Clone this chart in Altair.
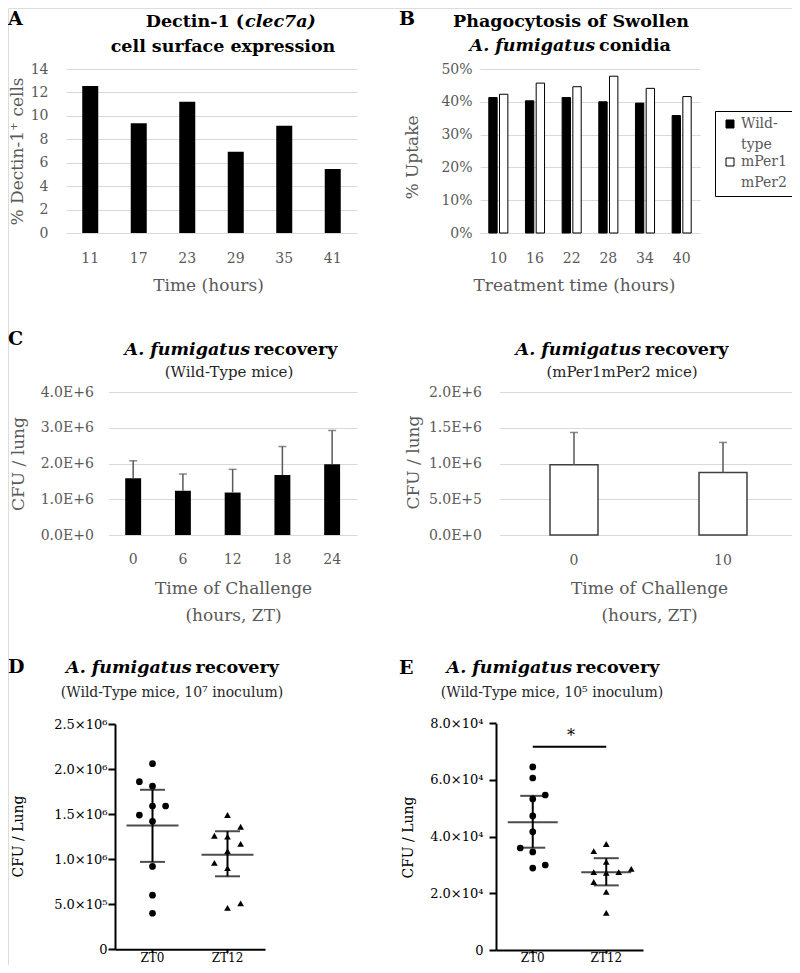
import altair as alt
import pandas as pd

FONT = "DejaVu Serif"
GRAY = "#595959"
GRID = "#d9d9d9"
W, H = 784, 957
TS = 17.5  # panel title size


def P(v):
    return v - 8


# ---------------- data ----------------
a_hours = ["11", "17", "23", "29", "35", "41"]
a_pct = [12.55, 9.36, 11.21, 6.94, 9.16, 5.46]
a_ticks = [0, 2, 4, 6, 8, 10, 12, 14]

b_hours = ["10", "16", "22", "28", "34", "40"]
b_groups = ["Wild-type", "mPer1mPer2"]
b_wt = [0.413, 0.403, 0.413, 0.400, 0.396, 0.358]
b_mper = [0.423, 0.457, 0.446, 0.478, 0.441, 0.416]
b_ticks = [0, 0.1, 0.2, 0.3, 0.4, 0.5]

c1_times = ["0", "6", "12", "18", "24"]
c1_mean = [1.59e6, 1.24e6, 1.19e6, 1.68e6, 1.98e6]
c1_upper = [2.08e6, 1.71e6, 1.84e6, 2.48e6, 2.93e6]
c1_ticks = [0, 1e6, 2e6, 3e6, 4e6]

c2_times = ["0", "10"]
c2_mean = [0.983e6, 0.875e6]
c2_upper = [1.437e6, 1.297e6]
c2_ticks = [0, 5e5, 1e6, 1.5e6, 2e6]

groups_de = ["ZT0", "ZT12"]
lanes = ["-2", "-1", "0", "1", "2"]

d_zt0 = [2.06e6, 1.86e6, 1.81e6, 1.59e6, 1.59e6, 1.49e6, 1.42e6, 0.92e6, 0.60e6, 0.40e6]
d_zt0_lane = ["0", "-1", "0", "0", "1", "-1", "0", "0", "0", "0"]
d_zt12 = [1.49e6, 1.36e6, 1.26e6, 1.25e6, 1.17e6, 1.09e6, 0.96e6, 0.90e6, 0.46e6, 0.51e6]
d_zt12_lane = ["0", "1", "-1", "0", "1", "0", "-1", "0", "0", "1"]
d_mean = [1.373e6, 1.048e6]
d_low = [0.97e6, 0.81e6]
d_high = [1.77e6, 1.31e6]
d_ticks = [0, 5e5, 1e6, 1.5e6, 2e6, 2.5e6]

e_zt0 = [6.46e4, 6.07e4, 5.47e4, 5.33e4, 4.73e4, 4.17e4, 3.60e4, 3.46e4, 2.89e4, 3.00e4]
e_zt0_lane = ["0", "0", "1", "0", "0", "0", "-1", "0", "0", "1"]
e_zt12 = [3.74e4, 3.49e4, 3.11e4, 2.75e4, 2.72e4, 2.75e4, 2.86e4, 2.40e4, 2.05e4, 1.31e4]
e_zt12_lane = ["0", "-1", "0", "-1", "0", "1", "2", "-1", "0", "0"]
e_mean = [4.51e4, 2.74e4]
e_low = [3.61e4, 2.28e4]
e_high = [5.44e4, 3.24e4]
e_ticks = [0, 2e4, 4e4, 6e4, 8e4]
e_sig = [7.17e4]


# ---------------- helpers ----------------
def txt(text, x, y, size=TS, weight="bold", style="normal", align="center", color="black"):
    return alt.Chart(alt.Data(values=[{}])).mark_text(
        text=text, font=FONT, fontSize=size, fontWeight=weight, fontStyle=style,
        align=align, baseline="middle", color=color,
    ).encode(x=alt.value(P(x)), y=alt.value(P(y)))


def excel_y_axis(axis_x, values, title, title_x, title_y, label_pad, label_expr=None, fmt=None):
    kw = dict(
        orient="left", offset=-P(axis_x), values=values, grid=True, gridColor=GRID, gridWidth=1,
        domain=False, ticks=False, labelFont=FONT, labelFontSize=14, labelColor=GRAY,
        labelPadding=label_pad, title=title, titleFont=FONT, titleFontSize=17,
        titleFontWeight="normal", titleColor=GRAY, titleX=P(title_x) - P(axis_x),
        titleY=P(title_y), titleBaseline="middle", titleAngle=-90,
    )
    if label_expr:
        kw["labelExpr"] = label_expr
    if fmt:
        kw["format"] = fmt
    return alt.Axis(**kw)


def excel_x_axis(axis_y, label_y, title, title_x, title_y, multiline=False):
    kw = dict(
        orient="bottom", offset=P(axis_y) - H, domain=False, ticks=False, grid=False,
        labelAngle=0, labelFont=FONT, labelFontSize=14, labelColor=GRAY,
        labelPadding=label_y - axis_y, labelBaseline="middle",
        title=title, titleFont=FONT, titleFontSize=17, titleFontWeight="normal",
        titleColor=GRAY, titleX=P(title_x), titleY=title_y - axis_y,
        titleBaseline="top" if multiline else "middle", titleLineHeight=27,
    )
    return alt.Axis(**kw)


sci_expr = "replace(format(datum.value, '.1e'), 'e', 'E')"

# ---------------- panel A ----------------
df_a = pd.DataFrame({"hour": a_hours, "pct": a_pct})
panel_a = alt.Chart(df_a).mark_bar(color="black").encode(
    x=alt.X("hour:N", sort=a_hours,
            scale=alt.Scale(range=[P(66), P(357)], paddingInner=0.67, paddingOuter=0.335),
            axis=excel_x_axis(233, 258, "Time (hours)", 208, 285)),
    y=alt.Y("pct:Q", scale=alt.Scale(domain=[0, 14], range=[P(233), P(69)], nice=False),
            axis=excel_y_axis(66, a_ticks, "% Dectin-1⁺ cells", 17, 151, 18)),
)

# ---------------- panel B ----------------
rows_b = []
for h, w_, m_ in zip(b_hours, b_wt, b_mper):
    rows_b.append({"hour": h, "group": b_groups[0], "uptake": w_})
    rows_b.append({"hour": h, "group": b_groups[1], "uptake": m_})
df_b = pd.DataFrame(rows_b)
panel_b = alt.Chart(df_b).mark_bar(stroke="black", strokeWidth=1).encode(
    x=alt.X("hour:N", sort=b_hours,
            scale=alt.Scale(range=[P(480), P(700)], paddingInner=0.48, paddingOuter=0.24),
            axis=excel_x_axis(233, 258, "Treatment time (hours)", 574, 285)),
    xOffset=alt.XOffset("group:N", sort=b_groups,
                        scale=alt.Scale(domain=b_groups, paddingInner=0.22, paddingOuter=0)),
    y=alt.Y("uptake:Q", scale=alt.Scale(domain=[0, 0.5], range=[P(233), P(69)], nice=False),
            axis=excel_y_axis(480, b_ticks, "% Uptake", 412, 157, 8, fmt=".0%")),
    color=alt.Color("group:N", sort=b_groups,
                    scale=alt.Scale(domain=b_groups, range=["black", "white"]),
                    legend=alt.Legend(
                        orient="none", legendX=P(715), legendY=P(111), title=None,
                        strokeColor="black", fillColor="white", padding=6,
                        symbolType="square", symbolSize=64, symbolStrokeColor="black",
                        symbolStrokeWidth=1, symbolOffset=2, labelFont=FONT, labelFontSize=14,
                        labelColor=GRAY, rowPadding=3, labelOffset=4,
                        labelExpr="datum.label == 'Wild-type' ? ['Wild-', 'type'] : ['mPer1', 'mPer2']",
                    )),
)

# ---------------- panel C (left) ----------------
df_c1 = pd.DataFrame({"time": c1_times, "mean": c1_mean, "upper": c1_upper})
x_c1 = alt.X("time:N", sort=c1_times,
             scale=alt.Scale(range=[P(108.3), P(357)], paddingInner=0.68, paddingOuter=0.34),
             axis=excel_x_axis(535, 559, ["Time of Challenge", "(hours, ZT)"], 233, 580, True))
sc_c1 = alt.Scale(domain=[0, 4e6], range=[P(535), P(392.3)], nice=False)
ax_c1 = excel_y_axis(108.3, c1_ticks, "CFU / lung", 18, 463.5, 15, label_expr=sci_expr)
base_c1 = alt.Chart(df_c1).encode(x=x_c1)
panel_c1 = alt.layer(
    base_c1.mark_bar(color="black").encode(y=alt.Y("mean:Q", scale=sc_c1, axis=ax_c1)),
    base_c1.mark_rule(color=GRAY, strokeWidth=1.5).encode(
        y=alt.Y("mean:Q", scale=sc_c1, axis=ax_c1), y2="upper:Q"),
    base_c1.mark_tick(color=GRAY, thickness=1.5, size=8).encode(
        y=alt.Y("upper:Q", scale=sc_c1, axis=ax_c1)),
)

# ---------------- panel C (right) ----------------
df_c2 = pd.DataFrame({"time": c2_times, "mean": c2_mean, "upper": c2_upper})
x_c2 = alt.X("time:N", sort=c2_times,
             scale=alt.Scale(range=[P(499.5), P(797.5)], paddingInner=0.678, paddingOuter=0.339),
             axis=excel_x_axis(535, 560, ["Time of Challenge", "(hours, ZT)"], 649, 580, True))
sc_c2 = alt.Scale(domain=[0, 2e6], range=[P(535), P(392.3)], nice=False)
ax_c2 = excel_y_axis(499.5, c2_ticks, "CFU / lung", 413, 462, 18, label_expr=sci_expr)
base_c2 = alt.Chart(df_c2).encode(x=x_c2)
panel_c2 = alt.layer(
    base_c2.mark_bar(fill="white", stroke="#404040", strokeWidth=1.5).encode(
        y=alt.Y("mean:Q", scale=sc_c2, axis=ax_c2)),
    base_c2.mark_rule(color=GRAY, strokeWidth=1.5).encode(
        y=alt.Y("mean:Q", scale=sc_c2, axis=ax_c2), y2="upper:Q"),
    base_c2.mark_tick(color=GRAY, thickness=1.5, size=8).encode(
        y=alt.Y("upper:Q", scale=sc_c2, axis=ax_c2)),
)


# ---------------- panels D and E (scatter) ----------------
def prism_panel(zt0, zt0_lane, zt12, zt12_lane, means, lows, highs, ticks, ymax,
                x_left, x_right, axis_y, y_top, label_expr, lab_pad, title_x, title_y,
                lane_step, mean_len, sig=None, star_x=None):
    n0, n1 = len(zt0), len(zt12)
    df_pts = pd.DataFrame({"group": ["ZT0"] * n0 + ["ZT12"] * n1,
                           "cfu": zt0 + zt12, "lane": zt0_lane + zt12_lane})
    df_sum = pd.DataFrame({"group": groups_de, "mean": means, "low": lows, "high": highs})
    band = (x_right - x_left) / 2
    lo = band / 2 - lane_step * 2.5
    x_enc = alt.X("group:N", sort=groups_de,
                  scale=alt.Scale(range=[P(x_left), P(x_right)], paddingInner=0, paddingOuter=0),
                  axis=alt.Axis(orient="bottom", offset=P(axis_y) - H, domainColor="black",
                                domainWidth=2, tickColor="black", tickWidth=2, tickSize=3,
                                labelColor="black", labelFont=FONT, labelFontSize=12,
                                labelBaseline="alphabetic", labelPadding=961.5 - axis_y - 3,
                                labelAngle=0, title=None, grid=False))
    sc = alt.Scale(domain=[0, ymax], range=[P(axis_y), P(y_top)], nice=False)
    ax = alt.Axis(orient="left", offset=-P(x_left), values=ticks, domainColor="black",
                  domainWidth=2, tickColor="black", tickWidth=2, tickSize=7,
                  labelColor="black", labelFont=FONT, labelFontSize=13, labelPadding=lab_pad,
                  labelExpr=label_expr, grid=False, title="CFU / Lung", titleFont=FONT,
                  titleFontSize=14, titleColor="black", titleFontWeight="normal",
                  titleX=P(title_x) - P(x_left), titleY=P(title_y), titleBaseline="middle",
                  titleAngle=-90)
    pts = alt.Chart(df_pts).mark_point(filled=True, size=45, opacity=1, color="black").encode(
        x=x_enc,
        xOffset=alt.XOffset("lane:N", scale=alt.Scale(domain=lanes, range=[lo, lo + 5 * lane_step],
                                                      paddingInner=0, paddingOuter=0)),
        y=alt.Y("cfu:Q", scale=sc, axis=ax),
        shape=alt.Shape("group:N", scale=alt.Scale(domain=groups_de, range=["circle", "triangle-up"]),
                        legend=None),
    )
    base = alt.Chart(df_sum).encode(x=x_enc)
    layers = [
        pts,
        base.mark_tick(color="black", thickness=2, size=mean_len).encode(y=alt.Y("mean:Q", scale=sc, axis=ax)),
        base.mark_rule(color="black", strokeWidth=2).encode(y=alt.Y("low:Q", scale=sc, axis=ax), y2="high:Q"),
        base.mark_tick(color="black", thickness=2, size=25).encode(y=alt.Y("high:Q", scale=sc, axis=ax)),
        base.mark_tick(color="black", thickness=2, size=25).encode(y=alt.Y("low:Q", scale=sc, axis=ax)),
    ]
    if sig is not None:
        df_sig = pd.DataFrame({"group": ["ZT0"], "b": ["ZT12"], "y": sig})
        layers.append(alt.Chart(df_sig).mark_rule(color="black", strokeWidth=2).encode(
            x=x_enc, x2="b:N", y=alt.Y("y:Q", scale=sc, axis=ax)))
        layers.append(alt.Chart(df_sig).mark_text(text="*", font=FONT, fontSize=16, dy=-11,
                                                  color="black").encode(
            x=alt.value(P(star_x)), y=alt.Y("y:Q", scale=sc, axis=ax)))
    return alt.layer(*layers)


d_expr = ("datum.value == 0 ? '0' : datum.value >= 1000000 ? "
          "format(datum.value / 1000000, '.1f') + '×10⁶' : format(datum.value / 100000, '.1f') + '×10⁵'")
e_expr = "datum.value == 0 ? '0' : format(datum.value / 10000, '.1f') + '×10⁴'"

panel_d = prism_panel(d_zt0, d_zt0_lane, d_zt12, d_zt12_lane, d_mean, d_low, d_high, d_ticks,
                      2.5e6, 115, 265, 949.3, 724, d_expr, 1, 18, 836, 10.5, 52)
panel_e = prism_panel(e_zt0, e_zt0_lane, e_zt12, e_zt12_lane, e_mean, e_low, e_high, e_ticks,
                      8e4, 496, 643, 950, 723.3, e_expr, 6, 408, 837, 10, 50,
                      sig=e_sig, star_x=571)


# ---------------- titles ----------------
def recovery_title(center, y):
    return [txt("A. fumigatus", center + 20, y, align="right", style="italic"),
            txt("recovery", center + 24, y, align="left")]


titles = [
    txt("A", 8, 19, size=19, align="left"), txt("B", 399, 19, size=19, align="left"),
    txt("C", 8, 339, size=19, align="left"),
    txt("D", 8, 667, size=19, align="left"), txt("E", 399, 668, size=19, align="left"),
    txt("Dectin-1 (", 244, 22, align="right"), txt("clec7a)", 245, 22, align="left", style="italic"),
    txt("cell surface expression", 223, 47),
    txt("Phagocytosis of Swollen", 571, 22),
    txt("A. fumigatus", 595, 46, align="right", style="italic"), txt("conidia", 599, 46, align="left"),
    *recovery_title(230, 350),
    txt("(Wild-Type mice)", 229, 372, size=15, weight="normal", color="#262626"),
    *recovery_title(621, 350),
    txt("(mPer1mPer2 mice)", 622, 372, size=15, weight="normal", color="#262626"),
    *recovery_title(171.5, 668),
    txt("(Wild-Type mice, 10⁷ inoculum)", 172, 693, size=14, weight="normal", color="#262626"),
    *recovery_title(552, 668),
    txt("(Wild-Type mice, 10⁵ inoculum)", 552, 693, size=14, weight="normal", color="#262626"),
]

chart = alt.layer(panel_a, panel_b, panel_c1, panel_c2, panel_d, panel_e, *titles).resolve_scale(
    x="independent", y="independent", color="independent", shape="independent",
    xOffset="independent",
).resolve_axis(x="independent", y="independent").properties(
    width=W, height=H, padding=0, autosize=alt.AutoSizeParams(type="none"), background="white",
).configure_view(stroke=None).configure(style={"guide-label": {"lineHeight": 21}})

chart.save("out.html", embed_options={"renderer": "svg", "actions": False})
